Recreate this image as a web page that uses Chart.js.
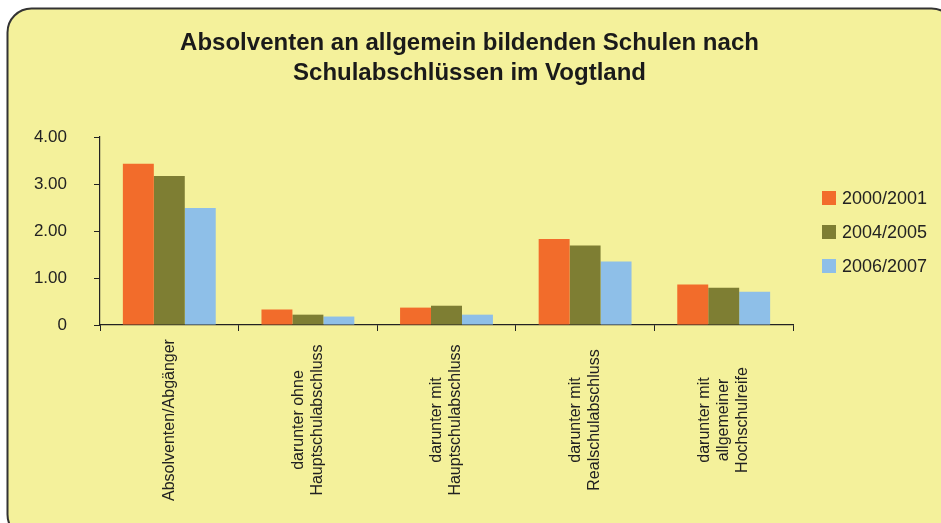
<!DOCTYPE html>
<html>
<head>
<meta charset="utf-8">
<script src="https://cdn.jsdelivr.net/npm/chart.js@4.4.0/dist/chart.umd.min.js"></script>
<style>
  html, body { margin: 0; padding: 0; background: #fff; }
  #wrap { width: 941px; height: 523px; }
</style>
</head>
<body>
<div id="wrap"><canvas id="chart" width="941" height="523"></canvas></div>
<script>
// Data
const categories = [
  ['Absolventen/Abgänger'],
  ['darunter ohne', 'Hauptschulabschluss'],
  ['darunter mit', 'Hauptschulabschluss'],
  ['darunter mit', 'Realschulabschluss'],
  ['darunter mit', 'allgemeiner', 'Hochschulreife']
];
const seriesNames = ['2000/2001', '2004/2005', '2006/2007'];
const values2000 = [3.43, 0.33, 0.37, 1.83, 0.86];
const values2004 = [3.17, 0.22, 0.41, 1.69, 0.79];
const values2006 = [2.49, 0.18, 0.22, 1.35, 0.71];
const yTicks = [0, 1, 2, 3, 4];

const colors = ['#F26C2B', '#7E7E33', '#8EBFE8'];
const textColor = '#222222';
const fontFamily = '"Liberation Sans", Arial, sans-serif';

// background panel with rounded corners
const framePlugin = {
  id: 'frame',
  beforeDraw(chart) {
    const ctx = chart.ctx;
    ctx.save();
    ctx.fillStyle = '#ffffff';
    ctx.fillRect(0, 0, chart.width, chart.height);
    ctx.beginPath();
    ctx.roundRect(7.5, 8.5, 948, 530, 24);
    ctx.fillStyle = '#F4F19B';
    ctx.fill();
    ctx.lineWidth = 2;
    ctx.strokeStyle = '#333333';
    ctx.stroke();
    ctx.restore();
  }
};

// rotated, centred multi-line category labels
const catLabelPlugin = {
  id: 'catLabels',
  afterDraw(chart) {
    const ctx = chart.ctx;
    const xs = chart.scales.x;
    const lineH = 19;
    ctx.save();
    ctx.fillStyle = textColor;
    ctx.font = '16px ' + fontFamily;
    ctx.textAlign = 'center';
    ctx.textBaseline = 'middle';
    categories.forEach((lines, i) => {
      const x = xs.getPixelForValue(i);
      ctx.save();
      ctx.translate(x, 420);
      ctx.rotate(-Math.PI / 2);
      const off = (lines.length - 1) * lineH / 2;
      lines.forEach((t, j) => ctx.fillText(t, 0, j * lineH - off));
      ctx.restore();
    });
    ctx.restore();
  }
};

// legend to the right of the plot, vertically centred on it
const sideLegendPlugin = {
  id: 'sideLegend',
  afterDraw(chart) {
    const ctx = chart.ctx;
    const ds = chart.data.datasets;
    const step = 34;
    const midY = (chart.chartArea.top + chart.chartArea.bottom) / 2 + 1;
    const y0 = midY - (ds.length - 1) * step / 2;
    ctx.save();
    ctx.font = '18px ' + fontFamily;
    ctx.textBaseline = 'middle';
    ctx.textAlign = 'left';
    ds.forEach((d, i) => {
      const y = y0 + i * step;
      ctx.fillStyle = d.backgroundColor;
      ctx.fillRect(822, y - 7, 14, 14);
      ctx.fillStyle = textColor;
      ctx.fillText(d.label, 842, y + 1);
    });
    ctx.restore();
  }
};

new Chart(document.getElementById('chart'), {
  type: 'bar',
  data: {
    labels: categories.map(c => c.join(' ')),
    datasets: [
      { label: seriesNames[0], data: values2000, backgroundColor: colors[0] },
      { label: seriesNames[1], data: values2004, backgroundColor: colors[1] },
      { label: seriesNames[2], data: values2006, backgroundColor: colors[2] }
    ]
  },
  options: {
    responsive: false,
    animation: false,
    events: [],
    layout: { padding: { top: 10, left: 10, right: 12, bottom: 0 } },
    datasets: { bar: { categoryPercentage: 0.67, barPercentage: 1.0, borderWidth: 0 } },
    plugins: {
      title: {
        display: true,
        text: ['Absolventen an allgemein bildenden Schulen nach', 'Schulabschlüssen im Vogtland'],
        color: '#1a1a1a',
        font: { family: fontFamily, size: 24, weight: 'bold', lineHeight: 1.25 },
        padding: { top: 18, bottom: 49 }
      },
      legend: { display: false },
      tooltip: { enabled: false }
    },
    scales: {
      x: {
        ticks: { display: false },
        border: { color: '#222', width: 1.2 },
        grid: { drawOnChartArea: false, drawTicks: true, tickLength: 6, color: '#222' },
        afterFit(scale) { scale.height = 198; }
      },
      y: {
        min: 0,
        max: 4,
        afterBuildTicks(scale) { scale.ticks = yTicks.map(v => ({ value: v })); },
        ticks: {
          color: textColor,
          font: { family: fontFamily, size: 17 },
          padding: 27,
          callback: v => v === 0 ? '0' : v.toFixed(2)
        },
        border: { color: '#222', width: 1.2 },
        grid: { drawOnChartArea: false, drawTicks: true, tickLength: 6, color: '#222' },
        afterFit(scale) { scale.width = 90; }
      },
      // empty right-hand axis that reserves room for the legend
      yRight: {
        position: 'right',
        display: true,
        min: 0,
        max: 4,
        ticks: { display: false },
        grid: { display: false },
        border: { display: false },
        afterFit(scale) { scale.width = 136; }
      }
    }
  },
  plugins: [framePlugin, catLabelPlugin, sideLegendPlugin]
});
</script>
</body>
</html>
